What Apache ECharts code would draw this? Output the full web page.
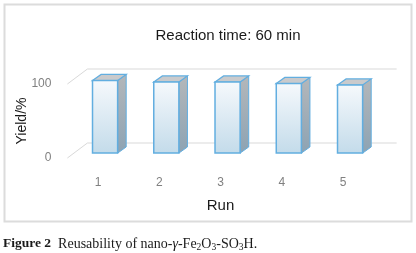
<!DOCTYPE html>
<html>
<head>
<meta charset="utf-8">
<script src="https://cdn.jsdelivr.net/npm/echarts@6/dist/echarts.min.js"></script>
<style>
html,body{margin:0;padding:0;background:#fff;}
#chart{width:416px;height:253px;}
</style>
</head>
<body>
<div id="chart"></div>
<script>
// Data
const categories = ['1', '2', '3', '4', '5'];
const yieldValues = [98, 96, 96, 94, 92];
const yTicks = [0, 100];

const chart = echarts.init(document.getElementById('chart'), null, {renderer: 'canvas'});

const barData = yieldValues.map((v, i) => [i, v]);
const gridData = yTicks.map(v => [0, v]);

function renderGridLine(params, api) {
  const cs = params.coordSys;
  const p = api.coord([0, api.value(1)]);
  const y = p[1];
  const dx = 20, dy = -15;
  return {
    type: 'polyline',
    shape: {points: [[cs.x, y], [cs.x + dx, y + dy], [cs.x + cs.width + dx + 3, y + dy]]},
    style: {stroke: '#d9d9d9', lineWidth: 1, fill: null},
    silent: true
  };
}

function renderBar(params, api) {
  const i = api.value(0), v = api.value(1);
  const band = api.size([1, 0])[0];
  const base = api.coord([i, 0]);
  const top = api.coord([i, v]);
  const w = band * 0.41;
  const ox = band * 0.115, oy = -band * 0.08;
  const dx = band * 0.14, dy = -band * 0.1;
  const xl = base[0] + ox - w / 2, xr = xl + w;
  const yb = base[1] + oy, yt = top[1] + oy;
  const edge = '#62aee0';
  return {
    type: 'group',
    children: [
      {
        type: 'polygon',
        shape: {points: [[xr, yt], [xr + dx, yt + dy], [xr + dx, yb + dy], [xr, yb]]},
        style: {
          fill: new echarts.graphic.LinearGradient(0, 0, 0, 1, [
            {offset: 0, color: '#b4b7ba'},
            {offset: 1, color: '#8da3b3'}
          ]),
          stroke: edge, lineWidth: 1
        }
      },
      {
        type: 'polygon',
        shape: {points: [[xl, yt], [xl + dx, yt + dy], [xr + dx, yt + dy], [xr, yt]]},
        style: {fill: '#c9cacc', stroke: edge, lineWidth: 1.2}
      },
      {
        type: 'rect',
        shape: {x: xl, y: yt, width: w, height: yb - yt},
        style: {
          fill: new echarts.graphic.LinearGradient(0, 0, 0, 1, [
            {offset: 0, color: '#f6f9fc'},
            {offset: 1, color: '#c3dbea'}
          ]),
          stroke: edge, lineWidth: 1.5
        }
      }
    ]
  };
}

const serif = 'Liberation Serif';
chart.setOption({
  animation: false,
  backgroundColor: '#fff',
  title: {
    text: 'Reaction time: 60 min',
    left: 223, top: 23, textAlign: 'center',
    textStyle: {fontFamily: 'Liberation Sans', fontSize: 15, fontWeight: 'normal', color: '#1a1a1a'}
  },
  grid: {left: 67.4, width: 306.25, top: 84, bottom: 95, containLabel: false},
  xAxis: {
    type: 'category',
    data: categories,
    axisLine: {show: false},
    axisTick: {show: false},
    axisLabel: {margin: 19, color: '#808080', fontSize: 12, fontFamily: 'Liberation Sans'},
    name: 'Run',
    nameLocation: 'middle',
    nameGap: 40,
    nameMoveOverlap: false,
    nameTextStyle: {fontSize: 15, color: '#1a1a1a', fontFamily: 'Liberation Sans'}
  },
  yAxis: {
    type: 'value',
    min: 0, max: 100, interval: 100,
    axisLine: {show: false},
    axisTick: {show: false},
    splitLine: {show: false},
    axisLabel: {margin: 16, color: '#808080', fontSize: 12, fontFamily: 'Liberation Sans'},
    name: 'Yield/%',
    nameLocation: 'middle',
    nameRotate: 90,
    nameGap: 38,
    nameMoveOverlap: false,
    nameTextStyle: {fontSize: 14, color: '#1a1a1a', fontFamily: 'Liberation Sans'}
  },
  series: [
    {type: 'custom', renderItem: renderGridLine, data: gridData, z: 1, silent: true},
    {type: 'custom', renderItem: renderBar, data: barData, z: 2}
  ],
  graphic: [
    {
      type: 'rect', left: 2, top: 2, z: -1,
      shape: {x: 0, y: 0, width: 407, height: 217},
      style: {fill: null, stroke: '#dcdcdc', lineWidth: 2}
    },
    {
      type: 'text', left: 3, top: 237,
      style: {
        text: '{b|Figure 2}{n|  Reusability of nano-}{i|γ}{n|-Fe}{s|2}{n|O}{s|3}{n|-SO}{s|3}{n|H.}',
        rich: {
          b: {fontFamily: serif, fontWeight: 'bold', fontSize: 13.5, fill: '#1a1a1a', lineHeight: 16, verticalAlign: 'middle'},
          n: {fontFamily: serif, fontSize: 14, fill: '#1a1a1a', lineHeight: 16, verticalAlign: 'middle'},
          i: {fontFamily: serif, fontStyle: 'italic', fontSize: 14, fill: '#1a1a1a', lineHeight: 16, verticalAlign: 'middle'},
          s: {fontFamily: serif, fontSize: 9.5, fill: '#1a1a1a', lineHeight: 16, verticalAlign: 'bottom'}
        }
      }
    }
  ]
});
</script>
</body>
</html>
